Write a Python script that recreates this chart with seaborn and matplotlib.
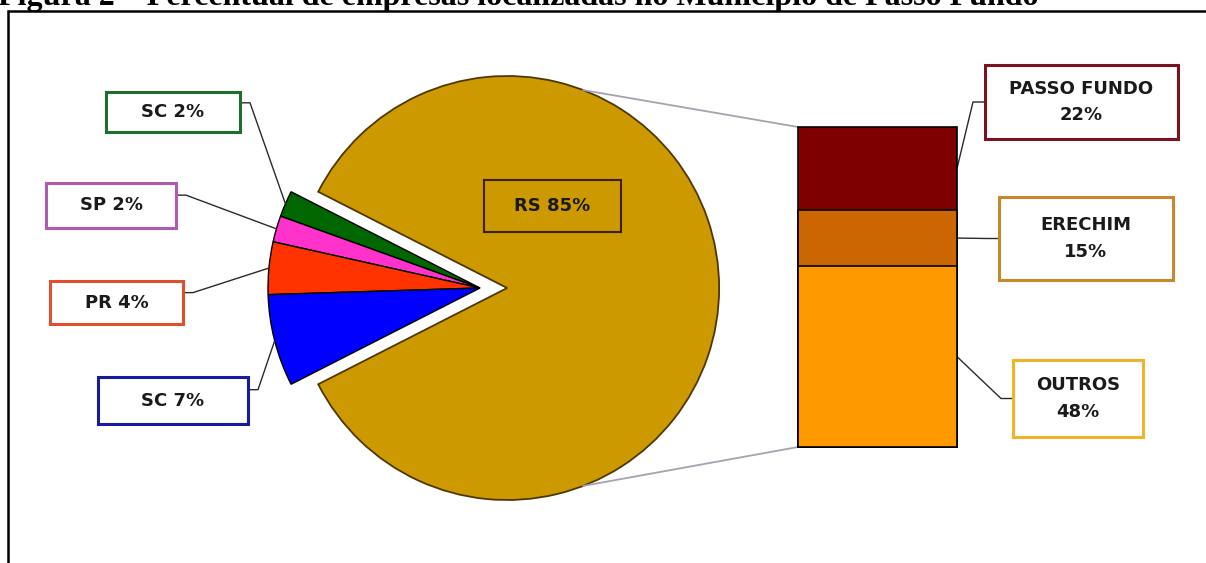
import seaborn as sns
import matplotlib.pyplot as plt
import matplotlib.patches as mpatches
import numpy as np

# dados: empresas por estado (pizza) e detalhamento do RS (barra)
estados = ['RS', 'SC', 'SP', 'PR', 'SC']
estados_pct = [85, 2, 2, 4, 7]
estados_cores = ['#CC9900', '#006600', '#FF33CC', '#FF3300', '#0000FF']
estados_bordas = ['#3b1f0f', '#1e6e2e', '#b05ab0', '#e0502a', '#1a1a9a']

cidades = ['PASSO FUNDO', 'ERECHIM', 'OUTROS']
cidades_pct = [22, 15, 48]
cidades_cores = ['#7F0000', '#CC6600', '#FF9900']
cidades_bordas = ['#7a1222', '#c8882e', '#f0b428']

titulo = 'Figura 2 – Percentual de empresas localizadas no Município de Passo Fundo'

sns.set_theme(style='white')
plt.rcParams['font.family'] = ['DejaVu Sans']

W, H = 1206, 563


def py(y):
    # y medido a partir do topo da imagem
    return H - y


fig = plt.figure(figsize=(W / 100, H / 100), dpi=100)
ax = fig.add_axes([0, 0, 1, 1])

# pizza: RS destacado para a direita, demais estados agrupados à esquerda
cx, cy, R = 480, py(288), 212
outros_graus = sum(estados_pct[1:]) / sum(estados_pct) * 360
inicio = 180 + outros_graus / 2 - 360
destaque = 0.128
explode = [destaque * R, 0, 0, 0, 0]  # pie usa unidades de dados
wedges, _ = ax.pie(estados_pct, colors=estados_cores, startangle=inicio,
                   radius=R, center=(cx, cy), explode=explode,
                   wedgeprops=dict(linewidth=1, edgecolor='black'))
wedges[0].set_edgecolor('#4d3800')
wedges[0].set_linewidth(1.3)
ax.set_xlim(0, W)
ax.set_ylim(0, H)
ax.set_aspect('auto')
ax.axis('off')

# barra empilhada (detalhe do RS)
bx0, bx1, by0, by1 = 798, 957, 127, 447
bax = fig.add_axes([bx0 / W, (H - by1) / H, (bx1 - bx0) / W, (by1 - by0) / H])
acumulado = np.cumsum(cidades_pct[::-1])[::-1]
for total, cor in zip(acumulado, cidades_cores):
    sns.barplot(x=[0], y=[total], color=cor, saturation=1, width=1,
                edgecolor='black', linewidth=1.2, errorbar=None, ax=bax)
for p in bax.patches:
    p.set_clip_on(False)
bax.set_xlim(-0.5, 0.5)
bax.set_ylim(0, sum(cidades_pct))
bax.axis('off')

# linhas de ligação pizza -> barra
rs_cx = cx + destaque * R
for ang, (tx, ty) in [(69, (bx0, py(by0))), (-69, (bx0, py(by1)))]:
    a = np.deg2rad(ang)
    ax.plot([rs_cx + R * np.cos(a), tx], [cy + R * np.sin(a), ty],
            color='#a4a4ae', lw=1.3, zorder=1)

fonte = dict(fontsize=13, fontweight='bold', color='#1a1a1a',
             ha='center', va='center')

# rótulos dos estados
caixas_estados = [(484, 180, 621, 232), (106, 92, 240, 132),
                  (46, 183, 176, 228), (50, 281, 183, 324),
                  (98, 377, 248, 424)]
for i, (nome, pct) in enumerate(zip(estados, estados_pct)):
    x0, y0, x1, y1 = caixas_estados[i]
    lw = 1.5 if i == 0 else 2.2
    ax.add_patch(mpatches.Rectangle((x0, py(y1)), x1 - x0, y1 - y0,
                                    facecolor='none' if i == 0 else 'white',
                                    edgecolor=estados_bordas[i], lw=lw, zorder=5))
    ax.text((x0 + x1) / 2, py((y0 + y1) / 2), f'{nome} {pct}%', zorder=6, **fonte)
    if i == 0:
        continue
    w = wedges[i]
    meio = np.deg2rad((w.theta1 + w.theta2) / 2)
    ax_x = cx + R * np.cos(meio)
    ax_y = cy + R * np.sin(meio)
    ly = py(y0 + 0.27 * (y1 - y0))
    ax.plot([x1, x1 + 10, ax_x], [ly, ly, ax_y], color='#2a2a2a', lw=1, zorder=4)

# rótulos das cidades
caixas_cidades = [(985, 65, 1178, 139), (999, 197, 1173, 280),
                  (1013, 360, 1143, 437)]
base = np.cumsum([0] + cidades_pct[::-1][:-1])[::-1]
for i, (nome, pct) in enumerate(zip(cidades, cidades_pct)):
    x0, y0, x1, y1 = caixas_cidades[i]
    ax.add_patch(mpatches.Rectangle((x0, py(y1)), x1 - x0, y1 - y0,
                                    facecolor='white', edgecolor=cidades_bordas[i],
                                    lw=2.2, zorder=5))
    ax.text((x0 + x1) / 2, py((y0 + y1) / 2), f'{nome}\n{pct}%',
            linespacing=1.6, zorder=6, **fonte)
    disp = bax.transData.transform((0.5, base[i] + pct / 2))
    sx, sy = ax.transData.inverted().transform(disp)
    ly = py((y0 + y1) / 2)
    ax.plot([sx, x0 - 12, x0], [sy, ly, ly], color='#2a2a2a', lw=1, zorder=4)

# moldura e título (cortado no topo, como no original)
fig.add_artist(mpatches.Rectangle((8 / W, -0.1), 1.2, 1.1 - 11.5 / H,
                                  transform=fig.transFigure, fill=False,
                                  edgecolor='black', lw=1.8))
fig.text(-2 / W, 1 - 5 / H, titulo, ha='left', va='baseline', fontsize=23,
         fontweight='bold', family='Liberation Serif', color='black')

fig.savefig('out.png', dpi=100)
